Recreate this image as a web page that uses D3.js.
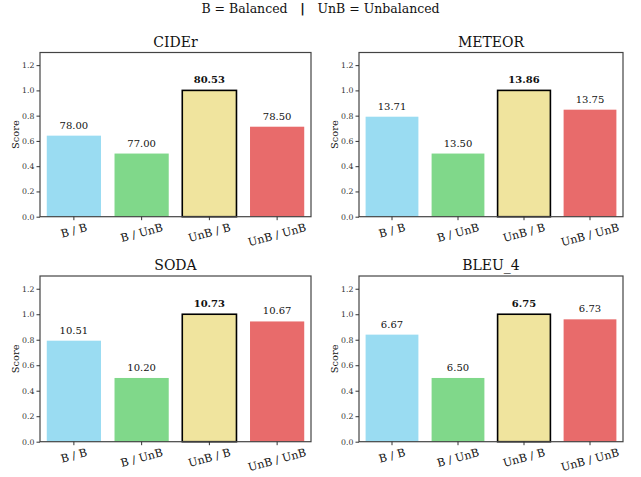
<!DOCTYPE html>
<html><head><meta charset="utf-8">
<script src="https://cdn.jsdelivr.net/npm/d3@7"></script>
<style>body{margin:0;background:#fff}svg{display:block}text{font-family:"DejaVu Serif",serif}</style>
</head><body>
<script>
const categories = ["B / B", "B / UnB", "UnB / B", "UnB / UnB"];
const metrics = ["CIDEr", "METEOR", "SODA", "BLEU_4"];
const cider = [78.00, 77.00, 80.53, 78.50];
const meteor = [13.71, 13.50, 13.86, 13.75];
const soda = [10.51, 10.20, 10.73, 10.67];
const bleu4 = [6.67, 6.50, 6.75, 6.73];
const yTicks = [0.0, 0.2, 0.4, 0.6, 0.8, 1.0, 1.2];
const colors = ["#9adcf2", "#80d88a", "#f0e49e", "#e86b6b"];
const series = [cider, meteor, soda, bleu4];

const W = 641, H = 477;
const svg = d3.select("body").append("svg").attr("width", W).attr("height", H);

svg.append("text").attr("x", 320.5).attr("y", 12.5).attr("text-anchor", "middle")
  .attr("font-size", 12.5).attr("fill", "#111")
  .html('B = Balanced <tspan font-weight="bold" font-family="DejaVu Sans">&#160;&#160;|&#160;&#160;</tspan> UnB = Unbalanced');

const panels = [
  {x0: 40, x1: 311, y0: 52.5, y1: 216.7},
  {x0: 359, x1: 623, y0: 52.5, y1: 216.7},
  {x0: 40, x1: 311, y0: 276, y1: 441.7},
  {x0: 359, x1: 623, y0: 276, y1: 441.7}
];

const ang = 15 * Math.PI / 180;

panels.forEach((p, i) => {
  const vals = series[i];
  const mn = d3.min(vals), mx = d3.max(vals);
  const norm = v => 0.5 + 0.5 * (v - mn) / (mx - mn);
  const x = d3.scaleBand().domain(categories).range([p.x0, p.x1]).paddingInner(0.2).paddingOuter(0.1);
  const y = d3.scaleLinear().domain([0, 1.3]).range([p.y1, p.y0]);
  const g = svg.append("g");

  g.selectAll("rect.bar").data(vals).enter().append("rect")
    .attr("x", (d, j) => x(categories[j]))
    .attr("y", d => y(norm(d)))
    .attr("width", x.bandwidth())
    .attr("height", d => y(0) - y(norm(d)))
    .attr("fill", (d, j) => colors[j])
    .attr("stroke", d => d === mx ? "#000" : "none")
    .attr("stroke-width", 1.6);

  g.selectAll("text.val").data(vals).enter().append("text")
    .attr("x", (d, j) => x(categories[j]) + x.bandwidth() / 2)
    .attr("y", d => y(norm(d)) - 7)
    .attr("text-anchor", "middle")
    .attr("font-size", 10)
    .attr("font-weight", d => d === mx ? "bold" : "normal")
    .attr("fill", "#111")
    .text(d => d.toFixed(2));

  g.append("rect").attr("x", p.x0).attr("y", p.y0).attr("width", p.x1 - p.x0).attr("height", p.y1 - p.y0)
    .attr("fill", "none").attr("stroke", "#444").attr("stroke-width", 1.2);

  const ya = g.append("g").attr("transform", `translate(${p.x0},0)`)
    .call(d3.axisLeft(y).tickValues(yTicks).tickFormat(d3.format(".1f")).tickSize(3.5).tickPadding(2));
  ya.select(".domain").remove();
  ya.selectAll("line").attr("stroke", "#333");
  ya.selectAll("text").attr("font-size", 7.8).attr("fill", "#333").attr("font-family", "DejaVu Serif");

  const xa = g.append("g").attr("transform", `translate(0,${p.y1})`)
    .call(d3.axisBottom(x).tickSize(3.5).tickFormat(""));
  xa.select(".domain").remove();
  xa.selectAll("line").attr("stroke", "#333");

  const fs = 11;
  categories.forEach(c => {
    const cx = x(c) + x.bandwidth() / 2;
    const t = g.append("text").attr("text-anchor", "middle").attr("dy", "0.35em")
      .attr("font-size", fs).attr("fill", "#111").text(c);
    const L = t.node().getComputedTextLength();
    const hh = L * Math.sin(ang) + fs * 1.1 * Math.cos(ang);
    const cy = p.y1 + 4.5 + hh / 2;
    t.attr("transform", `translate(${cx},${cy}) rotate(-15)`);
  });

  g.append("text").attr("transform", `translate(${p.x0 - 21},${(p.y0 + p.y1) / 2}) rotate(-90)`)
    .attr("text-anchor", "middle").attr("font-size", 9.8).attr("fill", "#111").text("Score");

  g.append("text").attr("x", (p.x0 + p.x1) / 2).attr("y", p.y0 - 6)
    .attr("text-anchor", "middle").attr("font-size", 14).attr("fill", "#111").text(metrics[i]);
});
</script>
</body></html>
